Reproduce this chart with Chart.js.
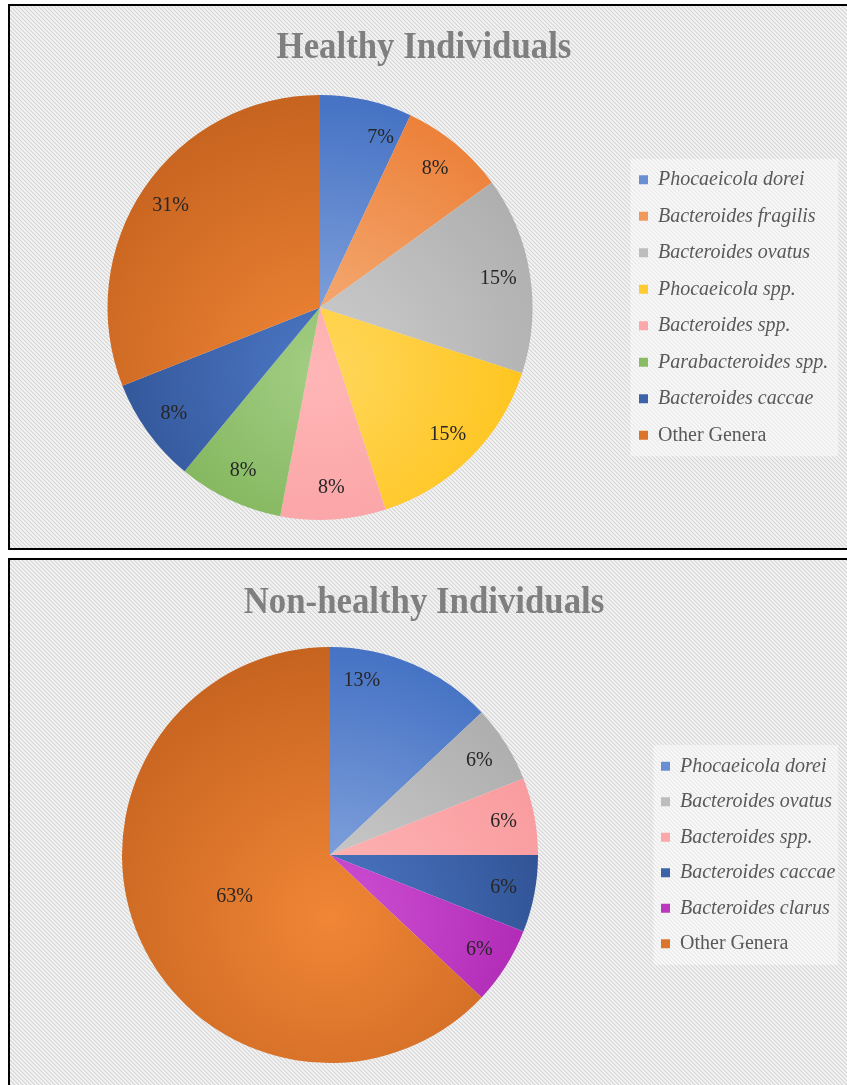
<!DOCTYPE html>
<html>
<head>
<meta charset="utf-8">
<title>Genus distribution</title>
<script src="https://cdn.jsdelivr.net/npm/chart.js@4.4.1/dist/chart.umd.min.js"></script>
<style>
  html, body { margin: 0; padding: 0; background: #fff; overflow: hidden; }
  .panel {
    position: absolute;
    left: 8px;
    width: 845px;
    border: 2px solid #000;
    background-color: #f4f4f4;
    background-image: url("data:image/svg+xml,%3Csvg xmlns='http://www.w3.org/2000/svg' width='4' height='4'%3E%3Cpath d='M0 0L4 4M-1 3L1 5M3 -1L5 1' stroke='%23d4d4d4' stroke-width='1.1'/%3E%3C/svg%3E");
  }
  .panel canvas { display: block; }
</style>
</head>
<body>
<div class="panel" style="top:4px;height:542px"><canvas id="healthy" width="828" height="542"></canvas></div>
<div class="panel" style="top:558px;height:540px"><canvas id="nonHealthy" width="828" height="540"></canvas></div>
<script>
const healthyLabels = ['Phocaeicola dorei', 'Bacteroides fragilis', 'Bacteroides ovatus', 'Phocaeicola spp.',
  'Bacteroides spp.', 'Parabacteroides spp.', 'Bacteroides caccae', 'Other Genera'];
const healthyShares = [7, 8, 15, 15, 8, 8, 8, 31];

const nonHealthyLabels = ['Phocaeicola dorei', 'Bacteroides ovatus', 'Bacteroides spp.', 'Bacteroides caccae',
  'Bacteroides clarus', 'Other Genera'];
const nonHealthyShares = [13, 6, 6, 6, 6, 63];

// light / dark colour of each slice (shading)
const palette = {
  'Phocaeicola dorei': ['#8dabe0', '#4572c4'],
  'Bacteroides fragilis': ['#f6b27f', '#ec8038'],
  'Bacteroides ovatus': ['#cdcdcd', '#acacac'],
  'Phocaeicola spp.': ['#ffd75c', '#ffbf0a'],
  'Bacteroides spp.': ['#ffb6b6', '#f8989c'],
  'Parabacteroides spp.': ['#a3cd84', '#71ab48'],
  'Bacteroides caccae': ['#4d78c6', '#2a4b8a'],
  'Bacteroides clarus': ['#cf52d4', '#a61cab'],
  'Other Genera': ['#f08636', '#c6631f']
};
const plainEntries = ['Other Genera'];
const serif = "'Liberation Serif', 'Times New Roman', serif";

function mix(a, b) {
  const pa = a.match(/\w\w/g).map(h => parseInt(h, 16));
  const pb = b.match(/\w\w/g).map(h => parseInt(h, 16));
  return 'rgb(' + pa.map((v, i) => Math.round((v + pb[i]) / 2)).join(',') + ')';
}

// shading: lighter towards the lower middle, darker at the rim
function fillFor(colors) {
  return (context) => {
    const pair = colors[context.dataIndex];
    if (!pair) return '#cccccc';
    const area = context.chart.chartArea;
    if (!area) return pair[1];
    const cx = (area.left + area.right) / 2;
    const cy = (area.top + area.bottom) / 2;
    const r = Math.min(area.right - area.left, area.bottom - area.top) / 2;
    const fy = cy + 0.3 * r;
    const g = context.chart.ctx.createRadialGradient(cx, fy, 0, cx, fy, 1.3 * r);
    g.addColorStop(0, pair[0]);
    g.addColorStop(1, pair[1]);
    return g;
  };
}

function legendItems(colors) {
  return (chart) => chart.data.labels.map((text, i) => ({
    text,
    fillStyle: mix(colors[i][0], colors[i][1]),
    strokeStyle: 'rgba(0,0,0,0)',
    lineWidth: 0,
    fontColor: plainEntries.includes(text) ? 'rgba(0,0,0,0)' : '#595959',
    hidden: false,
    index: i
  }));
}

// pale box behind the legend
const legendBacking = {
  id: 'legendBacking',
  beforeDraw(chart) {
    const lg = chart.legend;
    if (!lg || !lg.columnSizes || !lg.columnSizes.length) return;
    const gap = lg.options.labels.padding;
    const h = lg.columnSizes[0].height - gap;
    const mid = (lg.top + lg.bottom) / 2;
    const ctx = chart.ctx;
    ctx.save();
    ctx.fillStyle = 'rgba(255,255,255,0.45)';
    ctx.fillRect(lg.left + 8, mid - h / 2 - 11, lg.right - lg.left - 6, h + 22);
    ctx.restore();
  }
};

// percentage text inside each slice
const sliceLabels = {
  id: 'sliceLabels',
  afterDatasetsDraw(chart, args, opts) {
    const ctx = chart.ctx;
    const meta = chart.getDatasetMeta(0);
    const values = chart.data.datasets[0].data;
    const total = values.reduce((a, b) => a + b, 0);
    ctx.save();
    ctx.font = '20px ' + serif;
    ctx.fillStyle = '#262626';
    ctx.textAlign = 'center';
    ctx.textBaseline = 'middle';
    meta.data.forEach((arc, i) => {
      const p = arc.getProps(['x', 'y', 'startAngle', 'endAngle', 'outerRadius'], true);
      const turn = (opts.shift && opts.shift[i]) || 0;
      const angle = (p.startAngle + p.endAngle) / 2 + turn * Math.PI / 180;
      const r = p.outerRadius * (values[i] / total > 0.5 ? 0.5 : 0.85);
      ctx.fillText(values[i] + '%', p.x + Math.cos(angle) * r, p.y + Math.sin(angle) * r);
    });
    ctx.restore();
  }
};

// title drawn in a narrow bold serif over the space the title block reserves
const narrowTitle = {
  id: 'narrowTitle',
  afterDraw(chart) {
    const block = chart.titleBlock;
    const t = block.options;
    const ctx = chart.ctx;
    const y = block.top + t.padding.top + 21;
    ctx.save();
    ctx.translate(chart.width / 2, y);
    ctx.scale(0.94, 1);
    ctx.font = 'bold 37px ' + serif;
    ctx.fillStyle = '#7f7f7f';
    ctx.textAlign = 'center';
    ctx.textBaseline = 'middle';
    ctx.fillText(t.text, 0, 0);
    ctx.restore();
  }
};

// genus-level entries are written upright, species in italics
const plainLegendText = {
  id: 'plainLegendText',
  afterDraw(chart) {
    const lg = chart.legend;
    const labels = lg.options.labels;
    const size = 20;
    const ctx = chart.ctx;
    lg.legendItems.forEach((item, i) => {
      if (!plainEntries.includes(item.text)) return;
      const hit = lg.legendHitBoxes[i];
      ctx.save();
      ctx.font = size + 'px ' + serif;
      ctx.fillStyle = '#595959';
      ctx.textAlign = 'left';
      ctx.textBaseline = 'middle';
      ctx.fillText(item.text, hit.left + labels.boxWidth + size / 2, hit.top + hit.height / 2);
      ctx.restore();
    });
  }
};

function pieChart(id, title, labels, shares, look) {
  const colors = labels.map(l => palette[l]);
  const pad = { left: 0, right: 0, top: 0, bottom: look.bottom };
  const chart = new Chart(document.getElementById(id), {
    type: 'pie',
    data: {
      labels: labels,
      datasets: [{ data: shares, backgroundColor: fillFor(colors), borderWidth: 0 }]
    },
    options: {
      responsive: false,
      animation: false,
      events: [],
      layout: { padding: pad },
      plugins: {
        title: {
          display: true,
          text: title,
          color: 'rgba(0,0,0,0)',
          font: { family: serif, size: 35, weight: 'bold', lineHeight: 1.2 },
          padding: { top: look.titleTop, bottom: look.titleBottom }
        },
        legend: {
          position: 'right',
          fullSize: false,
          labels: {
            boxWidth: 9,
            boxHeight: 9,
            padding: look.rowGap,
            color: '#595959',
            font: { family: serif, size: 20, style: 'italic' },
            generateLabels: legendItems(colors)
          }
        },
        tooltip: { enabled: false },
        sliceLabels: { shift: look.shift }
      }
    },
    plugins: [legendBacking, sliceLabels, plainLegendText, narrowTitle]
  });

  // put the legend swatches and the pie centre where they belong
  const legendLeft = look.swatchX - look.rowGap;
  pad.left = 2 * look.centerX - legendLeft;
  pad.right = chart.width - legendLeft - chart.legend.width;
  chart.update('none');
  return chart;
}

pieChart('healthy', 'Healthy Individuals', healthyLabels, healthyShares, {
  titleTop: 21, titleBottom: 26, bottom: 28, rowGap: 16.5,
  centerX: 310, swatchX: 629, shift: { 0: 7 }
});

pieChart('nonHealthy', 'Non-healthy Individuals', nonHealthyLabels, nonHealthyShares, {
  titleTop: 22, titleBottom: 23, bottom: 37, rowGap: 15.5,
  centerX: 320, swatchX: 651, shift: { 0: -13 }
});
</script>
</body>
</html>
